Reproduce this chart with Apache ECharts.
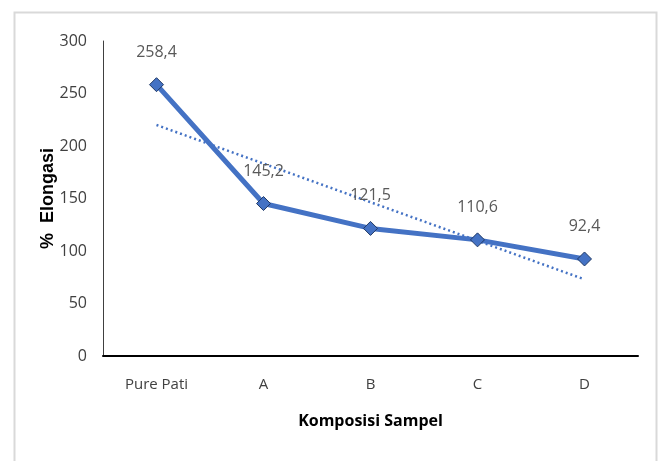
<!DOCTYPE html>
<html><head><meta charset="utf-8">
<script src="https://cdn.jsdelivr.net/npm/echarts@6/dist/echarts.min.js"></script>
<style>html,body{margin:0;padding:0;background:#fff}#c{width:660px;height:461px}</style>
</head><body><div id="c"></div>
<script>
var categories = ['Pure Pati', 'A', 'B', 'C', 'D'];
var elongasi = [258.4, 145.2, 121.5, 110.6, 92.4];
var trendEnds = [220, null, null, null, 73];
var yTicks = [0, 50, 100, 150, 200, 250, 300];

var FONT = '"Open Sans", sans-serif';
var chart = echarts.init(document.getElementById('c'), null, {renderer: 'canvas'});
chart.setOption({
  animation: false,
  graphic: [{
    type: 'rect', shape: {x: 14.5, y: 12.5, width: 642, height: 470},
    style: {fill: 'none', stroke: '#d9d9d9', lineWidth: 2}, z: -1
  }],
  grid: {left: 103, right: 22, top: 41, bottom: 105},
  xAxis: {
    type: 'category', data: categories, boundaryGap: true,
    axisLine: {lineStyle: {color: '#000', width: 2}},
    axisTick: {show: false},
    axisLabel: {color: '#404040', fontSize: 15, fontFamily: FONT, margin: 21},
    name: 'Komposisi Sampel', nameLocation: 'middle', nameGap: 57, nameMoveOverlap: false,
    nameTextStyle: {color: '#000', fontSize: 16, fontWeight: 'bold', fontFamily: FONT}
  },
  yAxis: {
    type: 'value', min: yTicks[0], max: yTicks[yTicks.length - 1], interval: 50,
    axisLine: {show: true, lineStyle: {color: '#404040', width: 1}},
    axisTick: {show: false},
    splitLine: {show: false},
    axisLabel: {color: '#404040', fontSize: 16, fontFamily: FONT, margin: 16},
    name: '%  Elongasi', nameLocation: 'middle', nameGap: 46, nameMoveOverlap: false,
    nameTextStyle: {color: '#000', fontSize: 18, fontWeight: 'bold', fontFamily: '"Liberation Sans", Arial, sans-serif'}
  },
  series: [{
    type: 'line', data: trendEnds, connectNulls: true, symbol: 'none',
    lineStyle: {color: '#4472C4', width: 2.5, type: [2, 3]}, z: 1
  }, {
    type: 'line', data: elongasi, symbol: 'diamond', symbolSize: 14,
    lineStyle: {color: '#4472C4', width: 5},
    itemStyle: {color: '#4472C4', borderColor: '#1f3864', borderWidth: 1},
    label: {show: true, position: 'top', distance: 17, color: '#595959', fontSize: 16, fontFamily: FONT,
      formatter: function (p) { return String(p.value).replace('.', ','); }},
    z: 2
  }]
});
</script></body></html>
